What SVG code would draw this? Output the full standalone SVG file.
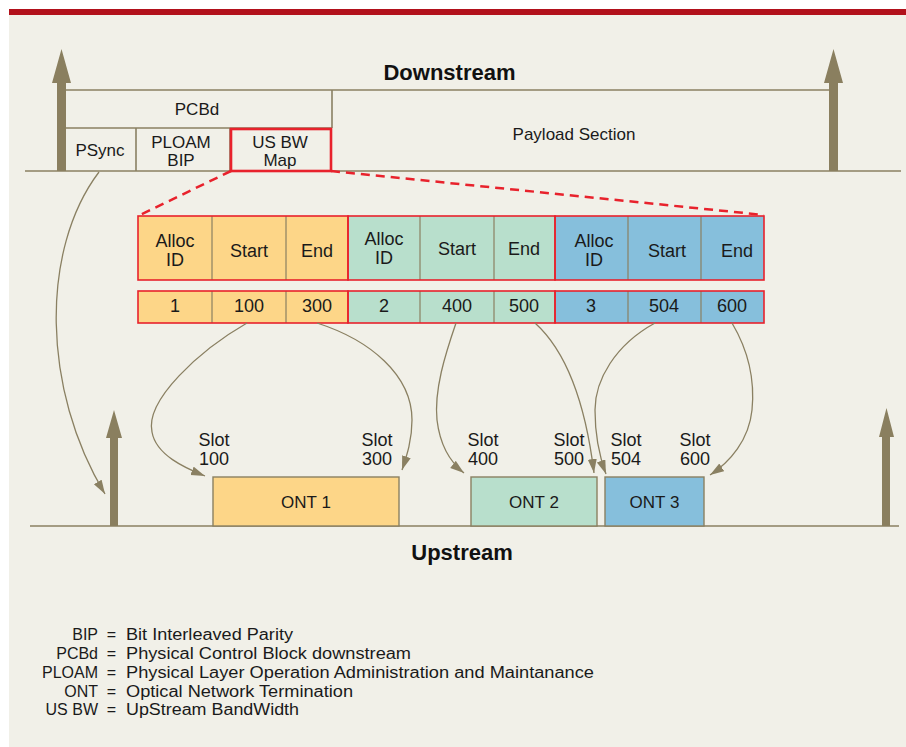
<svg xmlns="http://www.w3.org/2000/svg" width="906" height="747" viewBox="0 0 906 747">
<defs>
<style>
.t{font-family:"Liberation Sans",Arial,sans-serif;fill:#1a1a1a;text-anchor:middle}
.f17{font-size:17px}
.f18{font-size:18px}
.b{font-weight:bold;font-size:22px;fill:#111}
.ln{stroke:#8a8062;stroke-width:1.6;fill:none}
.thin{stroke:#8a8062;stroke-width:1.2;fill:none}
.cv{stroke:#8a8062;stroke-width:1.3;fill:none;marker-end:url(#ah)}
.big{fill:#8a7f5f}
.red{stroke:#e8222c;fill:none}
.or{fill:#fdd688}
.gr{fill:#b8dfcc}
.bl{fill:#86bfdc}
.lg{font-family:"Liberation Sans",Arial,sans-serif;font-size:16px;fill:#1a1a1a}
</style>
<marker id="ah" markerUnits="userSpaceOnUse" markerWidth="16" markerHeight="10" refX="14" refY="4.5" orient="auto">
<path d="M0,0 L14,4.5 L0,9 z" fill="#8a8062"/>
</marker>
</defs>
<rect x="0" y="0" width="906" height="747" fill="#ffffff"/>
<rect x="9" y="15" width="897" height="732" fill="#f1f0e8"/>
<rect x="9" y="9" width="897" height="6" fill="#b2111b"/>

<g id="frame">
<line class="ln" x1="65" y1="90" x2="832" y2="90"/>
<line class="ln" x1="65" y1="128" x2="332" y2="128"/>
<line class="ln" x1="332" y1="90" x2="332" y2="128"/>
<line class="ln" x1="136" y1="128" x2="136" y2="171"/>
<line class="ln" x1="230" y1="128" x2="230" y2="171"/>
<line class="ln" x1="25" y1="171" x2="901" y2="171"/>
<line class="ln" x1="30" y1="526" x2="899" y2="526"/>
</g>

<g id="bigArrows">
<path class="big" d="M57,171 L57,83 L52,83 L61.5,49 L71,83 L66,83 L66,171 z"/>
<path class="big" d="M829,171 L829,83 L824,83 L833.5,49 L843,83 L838,83 L838,171 z"/>
<path class="big" d="M110,526 L110,438 L106,438 L114,410 L122,438 L118,438 L118,526 z"/>
<path class="big" d="M882,526 L882,437 L879,437 L886.5,408 L894,437 L890,437 L890,526 z"/>
</g>

<g id="labels-top">
<text class="t b" x="449.5" y="80">Downstream</text>
<text class="t b" x="462" y="560">Upstream</text>
</g>

<g id="pcbd"><text class="t f17" x="197" y="115">PCBd</text></g>
<g id="psync"><text class="t f17" x="100" y="156">PSync</text></g>
<g id="ploam"><text class="t f17" x="181" y="148">PLOAM</text><text class="t f17" x="181" y="166">BIP</text></g>
<g id="usbw">
<rect class="red" x="231" y="129" width="100" height="42" stroke-width="2.6"/>
<text class="t f17" x="280" y="148">US BW</text><text class="t f17" x="280" y="166">Map</text>
</g>
<g id="payload"><text class="t f17" x="574" y="140">Payload Section</text></g>

<g id="zoomLines">
<line class="red" x1="231" y1="171" x2="138" y2="216" stroke-width="2.5" stroke-dasharray="9,6"/>
<line class="red" x1="331" y1="171" x2="764" y2="215" stroke-width="2.5" stroke-dasharray="9,6"/>
</g>

<g id="table-head">
<rect class="or" x="138" y="216" width="210" height="64"/>
<rect class="gr" x="348" y="216" width="207" height="64"/>
<rect class="bl" x="555" y="216" width="209" height="64"/>
<line class="thin" x1="212" y1="216" x2="212" y2="280"/>
<line class="thin" x1="286" y1="216" x2="286" y2="280"/>
<line class="thin" x1="420" y1="216" x2="420" y2="280"/>
<line class="thin" x1="494" y1="216" x2="494" y2="280"/>
<line class="thin" x1="628" y1="216" x2="628" y2="280"/>
<line class="thin" x1="701" y1="216" x2="701" y2="280"/>
<rect class="red" x="138" y="216" width="210" height="64" stroke-width="1.6"/>
<rect class="red" x="348" y="216" width="207" height="64" stroke-width="1.6"/>
<rect class="red" x="555" y="216" width="209" height="64" stroke-width="1.6"/>
<text class="t f18" x="175" y="247">Alloc</text><text class="t f18" x="175" y="266">ID</text>
<text class="t f18" x="249" y="257">Start</text>
<text class="t f18" x="317" y="257">End</text>
<text class="t f18" x="384" y="245">Alloc</text><text class="t f18" x="384" y="264">ID</text>
<text class="t f18" x="457" y="255">Start</text>
<text class="t f18" x="524" y="255">End</text>
<text class="t f18" x="594" y="247">Alloc</text><text class="t f18" x="594" y="266">ID</text>
<text class="t f18" x="667" y="257">Start</text>
<text class="t f18" x="737" y="257">End</text>
</g>

<g id="table-values">
<rect class="or" x="138" y="291" width="210" height="32"/>
<rect class="gr" x="348" y="291" width="207" height="32"/>
<rect class="bl" x="555" y="291" width="209" height="32"/>
<line class="thin" x1="212" y1="291" x2="212" y2="323"/>
<line class="thin" x1="286" y1="291" x2="286" y2="323"/>
<line class="thin" x1="420" y1="291" x2="420" y2="323"/>
<line class="thin" x1="494" y1="291" x2="494" y2="323"/>
<line class="thin" x1="628" y1="291" x2="628" y2="323"/>
<line class="thin" x1="701" y1="291" x2="701" y2="323"/>
<rect class="red" x="138" y="291" width="210" height="32" stroke-width="1.6"/>
<rect class="red" x="348" y="291" width="207" height="32" stroke-width="1.6"/>
<rect class="red" x="555" y="291" width="209" height="32" stroke-width="1.6"/>
<text class="t f18" x="175" y="312">1</text>
<text class="t f18" x="249" y="312">100</text>
<text class="t f18" x="317" y="312">300</text>
<text class="t f18" x="384" y="312">2</text>
<text class="t f18" x="457" y="312">400</text>
<text class="t f18" x="524" y="312">500</text>
<text class="t f18" x="591" y="312">3</text>
<text class="t f18" x="664" y="312">504</text>
<text class="t f18" x="732" y="312">600</text>
</g>

<g id="ont1">
<rect x="213" y="477" width="186" height="49" fill="#fdd688" stroke="#8a8062" stroke-width="1.4"/>
<text class="t f17" x="306" y="508">ONT 1</text>
</g>
<g id="ont2">
<rect x="471" y="477" width="126" height="49" fill="#b8dfcc" stroke="#8a8062" stroke-width="1.4"/>
<text class="t f17" x="534" y="508">ONT 2</text>
</g>
<g id="ont3">
<rect x="605" y="477" width="99" height="49" fill="#86bfdc" stroke="#8a8062" stroke-width="1.4"/>
<text class="t f17" x="654.5" y="508">ONT 3</text>
</g>

<g id="slots">
<text class="t f18" x="214" y="446">Slot</text><text class="t f18" x="214" y="465">100</text>
<text class="t f18" x="377" y="446">Slot</text><text class="t f18" x="377" y="465">300</text>
<text class="t f18" x="483" y="446">Slot</text><text class="t f18" x="483" y="465">400</text>
<text class="t f18" x="569" y="446">Slot</text><text class="t f18" x="569" y="465">500</text>
<text class="t f18" x="626" y="446">Slot</text><text class="t f18" x="626" y="465">504</text>
<text class="t f18" x="695" y="446">Slot</text><text class="t f18" x="695" y="465">600</text>
</g>

<g id="connectors">
<path class="cv" d="M99,172 C40,250 42,390 105,494"/>
<path class="cv" d="M247,323 C200,350 145,400 152,432 C156,455 185,468 205,476"/>
<path class="cv" d="M317,323 C370,340 412,375 412,420 C412,440 407,455 402,470"/>
<path class="cv" d="M456,323 C445,355 434,390 437,420 C440,445 450,462 464,473"/>
<path class="cv" d="M535,323 C565,350 585,400 594,473"/>
<path class="cv" d="M655,323 C615,345 595,380 595,410 C595,440 600,458 606,474"/>
<path class="cv" d="M732,323 C748,350 755,380 752,410 C749,440 730,462 710,475"/>
</g>

<g id="legend">
<text class="lg" x="98" y="640" text-anchor="end">BIP</text>
<text class="lg" x="98" y="659" text-anchor="end">PCBd</text>
<text class="lg" x="98" y="678" text-anchor="end">PLOAM</text>
<text class="lg" x="98" y="697" text-anchor="end">ONT</text>
<text class="lg" x="98" y="715" text-anchor="end">US BW</text>
<text class="lg" x="111.5" y="640" text-anchor="middle">=</text>
<text class="lg" x="111.5" y="659" text-anchor="middle">=</text>
<text class="lg" x="111.5" y="678" text-anchor="middle">=</text>
<text class="lg" x="111.5" y="697" text-anchor="middle">=</text>
<text class="lg" x="111.5" y="715" text-anchor="middle">=</text>
<text class="lg" x="126" y="640" textLength="167" lengthAdjust="spacingAndGlyphs">Bit Interleaved Parity</text>
<text class="lg" x="126" y="659" textLength="285" lengthAdjust="spacingAndGlyphs">Physical Control Block downstream</text>
<text class="lg" x="126" y="678" textLength="468" lengthAdjust="spacingAndGlyphs">Physical Layer Operation Administration and Maintanance</text>
<text class="lg" x="126" y="697" textLength="227" lengthAdjust="spacingAndGlyphs">Optical Network Termination</text>
<text class="lg" x="126" y="715" textLength="173" lengthAdjust="spacingAndGlyphs">UpStream BandWidth</text>
</g>
</svg>
